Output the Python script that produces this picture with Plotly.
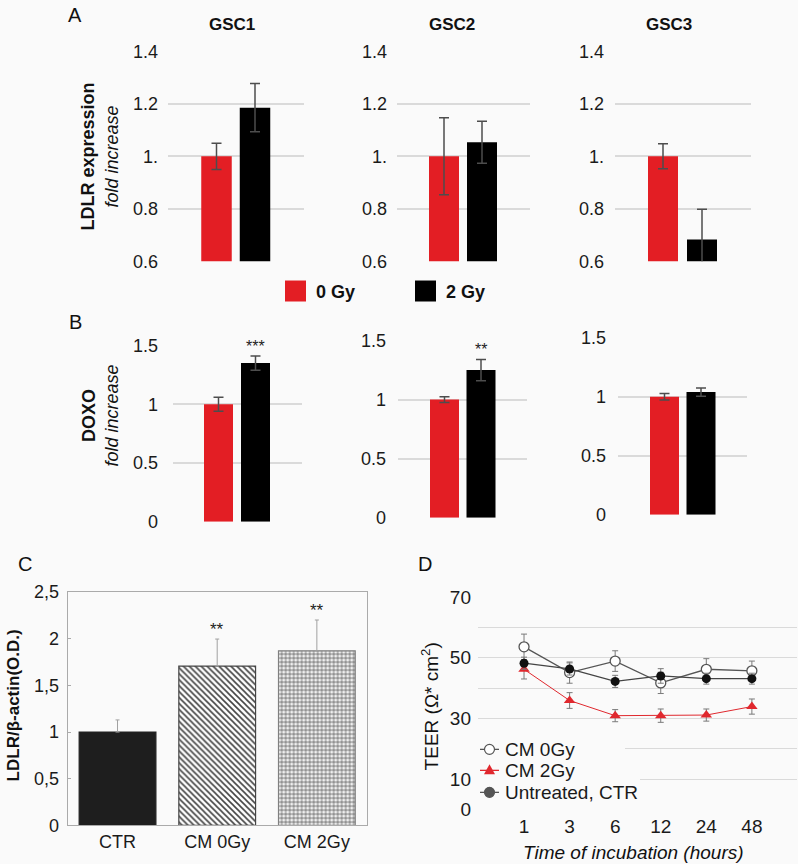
import plotly.graph_objects as go

W, H = 798, 864
FONT = "Liberation Sans, Arial, Helvetica, sans-serif"
BG = "#fafafa"
RED = "#e31e24"
DRED = "#e0282e"
BLACK = "#000000"
GRID = "#dadada"

# ---------------- data ----------------
cell_lines = ["GSC1", "GSC2", "GSC3"]
doses = ["0 Gy", "2 Gy"]

ldlr_0gy = [1.0, 1.0, 1.0]
ldlr_0gy_err = [0.05, 0.147, 0.048]
ldlr_2gy = [1.185, 1.053, 0.683]
ldlr_2gy_err = [0.092, 0.08, 0.115]
ldlr_ticks = [0.6, 0.8, 1.0, 1.2, 1.4]
ldlr_ticktext = ["0.6", "0.8", "1.", "1.2", "1.4"]

doxo_0gy = [1.0, 1.0, 1.0]
doxo_0gy_err = [0.06, 0.025, 0.028]
doxo_2gy = [1.35, 1.25, 1.04]
doxo_2gy_err = [0.06, 0.09, 0.035]
doxo_sig = ["***", "**", ""]
doxo_ticks = [0, 0.5, 1, 1.5]
doxo_ticktext = ["0", "0.5", "1", "1.5"]

c_groups = ["CTR", "CM 0Gy", "CM 2Gy"]
c_values = [1.0, 1.707, 1.871]
c_err = [0.13, 0.29, 0.33]
c_sig = ["", "**", "**"]
c_ticks = [0, 0.5, 1, 1.5, 2, 2.5]
c_ticktext = ["0", "0,5", "1", "1,5", "2", "2,5"]

hours = ["1", "3", "6", "12", "24", "48"]
d_names = ["CM 0Gy", "CM 2Gy", "Untreated, CTR"]
cm0 = [53.6, 45.1, 48.9, 41.7, 46.2, 45.7]
cm0_err = [4.2, 3.5, 3.4, 3.5, 3.5, 3.2]
cm2 = [46.2, 35.9, 30.9, 30.9, 31.1, 33.9]
cm2_err = [3.2, 2.6, 2.0, 2.2, 2.0, 2.5]
ctr = [48.2, 46.3, 42.2, 44.0, 43.1, 43.1]
ctr_err = [2.0, 2.0, 2.0, 2.4, 1.8, 1.8]
d_ticks = [0, 10, 30, 50, 70]
d_minor = [20, 40, 60]
d_sig = "**"

# the photographed page maps y_page -> 0.976*y_page + 10.4; compensate
SY, OY = 0.976, 10.4


def px(x):
    return x / W


def py(y):
    return 1 - ((y - OY) / SY) / H


def note(xp, yp, text, size, **kw):
    d = dict(x=px(xp), y=py(yp), xref="paper", yref="paper", text=text,
             showarrow=False, xanchor="center", yanchor="middle",
             font=dict(size=size, color="#111"))
    d.update(kw)
    return d


fig = go.Figure()
layout_axes = {}
annotations = []
shapes = []

# ---------------- panels A & B ----------------
# (axis idx, grid left, grid right, red centre, black centre, bar width, y top, y bottom, standoff)
bar_panels = [
    (1, 168, 304, 216.5, 255.0, 30.5, 51.7, 261.7, 9),
    (2, 397, 530, 444.0, 482.0, 30.0, 51.7, 261.7, 9),
    (3, 615, 751, 663.0, 702.0, 30.0, 51.7, 261.7, 10),
    (4, 173, 302, 218.5, 255.5, 29.0, 346.0, 522.3, 14),
    (5, 398, 527, 444.5, 481.0, 29.0, 341.0, 518.3, 11),
    (6, 618, 747, 664.5, 701.0, 29.0, 338.3, 515.3, 11),
]

for k, (idx, gl, gr, cr, cb, bw, yt, yb, so) in enumerate(bar_panels):
    i = k % 3
    if k < 3:
        vals = [ldlr_0gy[i], ldlr_2gy[i]]
        errs = [ldlr_0gy_err[i], ldlr_2gy_err[i]]
        yrange = [0.6, 1.4]
        tv, tt = ldlr_ticks, ldlr_ticktext
    else:
        vals = [doxo_0gy[i], doxo_2gy[i]]
        errs = [doxo_0gy_err[i], doxo_2gy_err[i]]
        yrange = [0, 1.5]
        tv, tt = doxo_ticks, doxo_ticktext
    unit = cb - cr
    xa = "x" if idx == 1 else f"x{idx}"
    ya = "y" if idx == 1 else f"y{idx}"
    fig.add_trace(go.Bar(
        x=doses, y=vals, width=bw / unit,
        marker=dict(color=[RED, BLACK], line=dict(width=0)),
        error_y=dict(type="data", array=errs, color="#4d4d4d", thickness=1.5, width=5),
        xaxis=xa, yaxis=ya, showlegend=False, hoverinfo="skip",
    ))
    layout_axes["xaxis" if idx == 1 else f"xaxis{idx}"] = dict(
        domain=[px(gl), px(gr)], anchor=ya, type="category",
        range=[(gl - cr) / unit, (gr - cr) / unit], visible=False,
    )
    layout_axes["yaxis" if idx == 1 else f"yaxis{idx}"] = dict(
        domain=[py(yb), py(yt)], anchor=xa, range=yrange,
        tickmode="array", tickvals=tv, ticktext=tt,
        showgrid=True, gridcolor=GRID, gridwidth=1.5, zeroline=False,
        showline=False, ticks="", ticklabelstandoff=so,
        tickfont=dict(size=18, color="#1a1a1a"),
    )
    if k >= 3 and doxo_sig[i]:
        annotations.append(dict(
            x=doses[1], y=vals[1] + errs[1], xref=xa, yref=ya,
            text=doxo_sig[i], showarrow=False, xanchor="center", yanchor="bottom",
            font=dict(size=16, color="#222"), yshift=-1,
        ))

# column titles
for name, xc in zip(cell_lines, [232, 452, 669]):
    annotations.append(note(xc, 25, f"<b>{name}</b>", 17))

# y titles A / B
annotations.append(note(100, 157, "<b>LDLR expression</b><br><i>fold increase</i>", 18,
                        textangle=-90))
annotations.append(note(100, 416, "<b>DOXO</b><br><i>fold increase</i>", 18,
                        textangle=-90))

# dose legend (squares + labels)
for (x0, col, lab) in [(285, RED, doses[0]), (415, BLACK, doses[1])]:
    shapes.append(dict(type="rect", xref="paper", yref="paper",
                       x0=px(x0), x1=px(x0 + 21), y0=py(302), y1=py(281),
                       fillcolor=col, line=dict(width=0)))
    annotations.append(note(x0 + 29, 292, f"<b>{lab}</b>", 18, xanchor="left"))

# ---------------- panel C ----------------
fig.add_trace(go.Bar(
    x=c_groups, y=c_values, width=0.77,
    marker=dict(
        color=["#1e1e1e", "#ffffff", "#f0f0f0"],
        line=dict(color=["#222222", "#444444", "#808080"], width=1.2),
        pattern=dict(shape=["", "\\", "+"],
                     fgcolor=["#1e1e1e", "#222222", "#a8a8a8"],
                     size=[8, 4.2, 4], solidity=[0.3, 0.38, 0.3],
                     fillmode="overlay", fgopacity=1),
    ),
    error_y=dict(type="data", symmetric=False, array=c_err, arrayminus=[0, 0, 0],
                 color="#a0a0a0", thickness=1, width=2),
    xaxis="x7", yaxis="y7", showlegend=False, hoverinfo="skip",
))
layout_axes["xaxis7"] = dict(domain=[px(67.7), px(366.7)], anchor="y7", type="category",
                             range=[-0.5, 2.5], showgrid=False, zeroline=False,
                             showline=True, mirror=True, linecolor="#aaaaaa", linewidth=1,
                             ticks="", ticklabelstandoff=0,
                             tickfont=dict(size=18, color="#1a1a1a"))
layout_axes["yaxis7"] = dict(domain=[py(826), py(592.7)], anchor="x7", range=[0, 2.5],
                             tickmode="array", tickvals=c_ticks, ticktext=c_ticktext,
                             showgrid=False, zeroline=False, showline=True, mirror=True,
                             linecolor="#aaaaaa", linewidth=1, ticks="inside", ticklen=3,
                             tickcolor="#aaaaaa", ticklabelstandoff=4,
                             tickfont=dict(size=18, color="#1a1a1a"))
for g, v, e, s in zip(c_groups, c_values, c_err, c_sig):
    if s:
        annotations.append(dict(x=g, y=v + e, xref="x7", yref="y7", text=s,
                                showarrow=False, xanchor="center", yanchor="bottom",
                                yshift=-2, font=dict(size=17, color="#222")))
annotations.append(note(13, 706, "<b>LDLR/β-actin(O.D.)</b>", 17, textangle=-90))

# ---------------- panel D ----------------
err_style = dict(type="data", color="#7a7a7a", thickness=1, width=3)
d_styles = [
    (cm0, cm0_err, dict(color="#555555", width=1.3),
     dict(symbol="circle", size=10, color="#ffffff", line=dict(color="#555555", width=1.3))),
    (cm2, cm2_err, dict(color=DRED, width=1),
     dict(symbol="triangle-up", size=10, color=DRED, line=dict(width=0))),
    (ctr, ctr_err, dict(color="#444444", width=1.3),
     dict(symbol="circle", size=9, color="#111111", line=dict(width=0))),
]
for name, (vals, errs, ln, mk) in zip(d_names, d_styles):
    fig.add_trace(go.Scatter(
        x=hours, y=vals, name=name, mode="lines+markers", line=ln, marker=mk,
        error_y=dict(array=errs, **err_style),
        xaxis="x8", yaxis="y8", showlegend=False,
    ))
layout_axes["xaxis8"] = dict(domain=[px(478), px(797)], anchor="y8", type="category",
                             range=[-1.01, 5.99], showgrid=False, zeroline=False,
                             showline=False, ticks="", ticklabelstandoff=4,
                             tickfont=dict(size=19, color="#1a1a1a"))
layout_axes["yaxis8"] = dict(domain=[py(810), py(597.7)], anchor="x8", range=[0, 70],
                             tickmode="array", tickvals=d_ticks,
                             showgrid=True, gridcolor=GRID, gridwidth=1.3, zeroline=False,
                             showline=False, ticks="", ticklabelstandoff=6,
                             minor=dict(tickmode="array", tickvals=d_minor, showgrid=True,
                                        gridcolor=GRID, gridwidth=1.3),
                             tickfont=dict(size=19, color="#1a1a1a"))
annotations.append(dict(x=hours[-1], y=cm2[-1], xref="x8", yref="y8", text=d_sig,
                        showarrow=False, xanchor="left", yanchor="middle",
                        xshift=8, yshift=-4, font=dict(size=17, color="#222")))
annotations.append(note(430, 707, "TEER (Ω* cm<sup>2</sup>)", 19, textangle=-90))
annotations.append(note(633, 853, "<i>Time of incubation (hours)</i>", 19))

# D legend (drawn as key glyphs + text, covering the grid behind it)
shapes.append(dict(type="rect", xref="paper", yref="paper", layer="above",
                   x0=px(476), x1=px(625), y0=py(803), y1=py(738),
                   fillcolor=BG, line=dict(width=0)))
shapes.append(dict(type="rect", xref="paper", yref="paper", layer="above",
                   x0=px(476), x1=px(640), y0=py(803), y1=py(770),
                   fillcolor=BG, line=dict(width=0)))
key_rows = [750, 771, 793]
key_cols = ["#555555", DRED, "#555555"]
for j, (name, yk, col) in enumerate(zip(d_names, key_rows, key_cols)):
    shapes.append(dict(type="line", xref="paper", yref="paper", layer="above",
                       x0=px(480), x1=px(499), y0=py(yk), y1=py(yk),
                       line=dict(color=col, width=1.3)))
    if j == 1:
        path = (f"M{px(489.5)},{py(yk - 6)} L{px(484)},{py(yk + 4)} "
                f"L{px(495)},{py(yk + 4)} Z")
        shapes.append(dict(type="path", xref="paper", yref="paper", layer="above",
                           path=path, fillcolor=DRED, line=dict(width=0)))
    else:
        fill = "#ffffff" if j == 0 else "#555555"
        shapes.append(dict(type="circle", xref="paper", yref="paper", layer="above",
                           x0=px(484.5), x1=px(494.5), y0=py(yk + 5), y1=py(yk - 5),
                           fillcolor=fill, line=dict(color="#555555", width=1.2)))
    annotations.append(note(503, yk, name, 19, xanchor="left",
                            font=dict(size=19, color="#1a1a1a")))

# panel letters
for lab, xl, yl in [("A", 75, 15), ("B", 75, 322), ("C", 25, 565), ("D", 425, 565)]:
    annotations.append(note(xl, yl, lab, 20))

fig.update_layout(
    width=W, height=H, margin=dict(l=0, r=0, t=0, b=0),
    paper_bgcolor=BG, plot_bgcolor=BG,
    font=dict(family=FONT, color="#1a1a1a"),
    showlegend=False,
    annotations=annotations, shapes=shapes,
    **layout_axes,
)

fig.write_html(
    "out.html",
    config={"displayModeBar": False},
    post_script=(
        "document.body.style.margin='0';"
        "document.body.style.overflow='hidden';"
        "document.documentElement.style.overflow='hidden';"
    ),
)
